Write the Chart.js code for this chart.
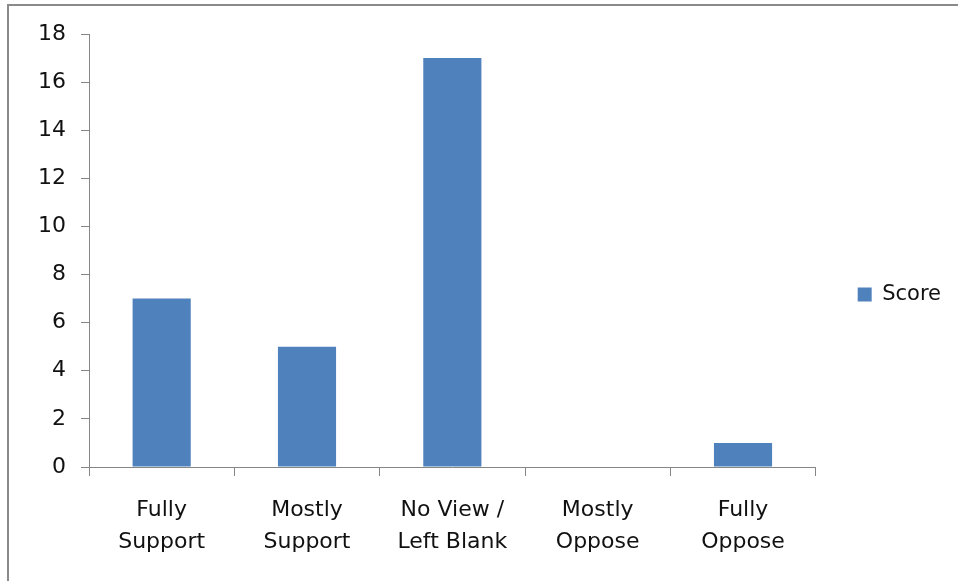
<!DOCTYPE html>
<html>
<head>
<meta charset="utf-8">
<script src="https://cdn.jsdelivr.net/npm/chart.js@4"></script>
<style>
  html, body { margin: 0; padding: 0; background: #fff; }
  #wrap { position: relative; width: 958px; height: 581px; }
</style>
</head>
<body>
<div id="wrap"><canvas id="scoreChart" width="958" height="581"></canvas></div>
<script>
// categories (two-line labels) and the single score series
const categories = [
  ["Fully", "Support"],
  ["Mostly", "Support"],
  ["No View /", "Left Blank"],
  ["Mostly", "Oppose"],
  ["Fully", "Oppose"]
];
const scores = [7, 5, 17, 0, 1];
const yTicks = { min: 0, max: 18, step: 2 };

const FONT = { family: "'DejaVu Sans', sans-serif", size: 22, lineHeight: 1.42 };
const AXIS_GREY = "#868686";

// grey frame on the top and left edge of the canvas
const framePlugin = {
  id: "frame",
  beforeDraw(chart) {
    const ctx = chart.ctx;
    ctx.save();
    ctx.fillStyle = "#fff";
    ctx.fillRect(0, 0, chart.width, chart.height);
    ctx.strokeStyle = "#8a8a8a";
    ctx.lineWidth = 2;
    ctx.beginPath();
    ctx.moveTo(8, chart.height);
    ctx.lineTo(8, 5);
    ctx.lineTo(chart.width, 5);
    ctx.stroke();
    ctx.restore();
  }
};

new Chart(document.getElementById("scoreChart").getContext("2d"), {
  type: "bar",
  data: {
    labels: categories,
    datasets: [
      {
        label: "Score",
        data: scores,
        backgroundColor: "#4F81BD",
        borderWidth: 0,
        barPercentage: 1,
        categoryPercentage: 0.4
      }
    ]
  },
  plugins: [framePlugin],
  options: {
    responsive: false,
    animation: false,
    layout: { padding: { top: 34, left: 20, right: 7, bottom: 26 } },
    scales: {
      x: {
        grid: {
          display: true,
          drawOnChartArea: false,
          drawTicks: true,
          tickLength: 9,
          color: AXIS_GREY,
          offset: true
        },
        border: { color: AXIS_GREY, width: 1 },
        ticks: { color: "#111", font: FONT, padding: 19, maxRotation: 0 },
        afterFit(scale) { scale.height = 88; }
      },
      y: {
        min: yTicks.min,
        max: yTicks.max,
        grid: {
          drawOnChartArea: false,
          drawTicks: true,
          tickLength: 8,
          color: AXIS_GREY
        },
        border: { color: AXIS_GREY, width: 1 },
        ticks: { stepSize: yTicks.step, color: "#111", font: FONT, padding: 15 },
        afterFit(scale) { scale.width = 69; }
      }
    },
    plugins: {
      legend: {
        position: "right",
        align: "center",
        labels: {
          boxWidth: 14,
          boxHeight: 14,
          padding: 42,
          color: "#111",
          font: { family: FONT.family, size: 21 }
        }
      },
      tooltip: { enabled: false }
    }
  }
});
</script>
</body>
</html>
